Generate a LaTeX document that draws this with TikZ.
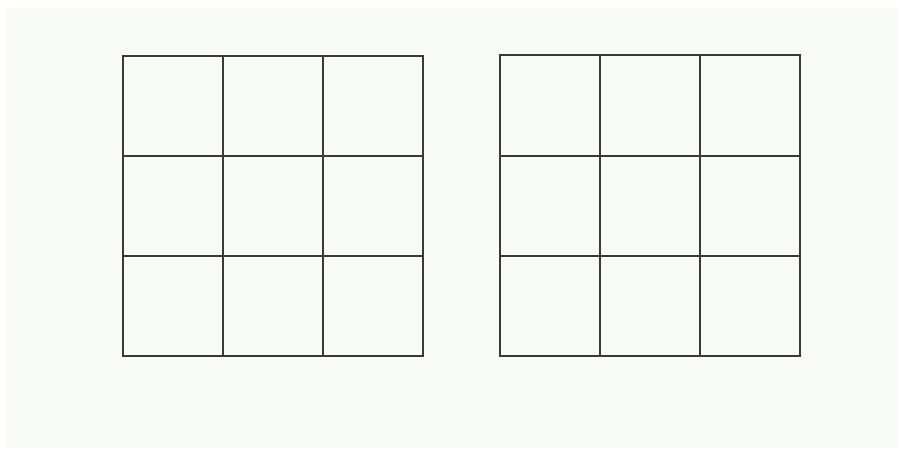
\documentclass[tikz,border=0pt]{standalone}
\usepackage{xcolor}
\usepackage{tikz}
\definecolor{paper}{HTML}{F8FAF5}
\definecolor{ink}{HTML}{3A3A3A}
\tikzset{
  gridline/.style={draw=ink,line width=1.5pt,line cap=rect},
  sheet/.style={fill=paper,draw=none}
}

\begin{document}
\begin{tikzpicture}[x=0.03cm,y=-0.03cm]
  \useasboundingbox (0,0) rectangle (903,455);
  \fill[white] (0,0) rectangle (903,455);
  \path[sheet] (6,8) rectangle (897,448);
  % left grid
  \foreach \x in {123,223,323,423}
    \draw[gridline] (\x,56) -- (\x,356);
  \foreach \y in {56,156,256,356}
    \draw[gridline] (123,\y) -- (423,\y);
  % right grid
  \foreach \x in {500,600,700,800}
    \draw[gridline] (\x,55) -- (\x,356);
  \foreach \y in {55,156,256,356}
    \draw[gridline] (500,\y) -- (800,\y);
\end{tikzpicture}
\end{document}
